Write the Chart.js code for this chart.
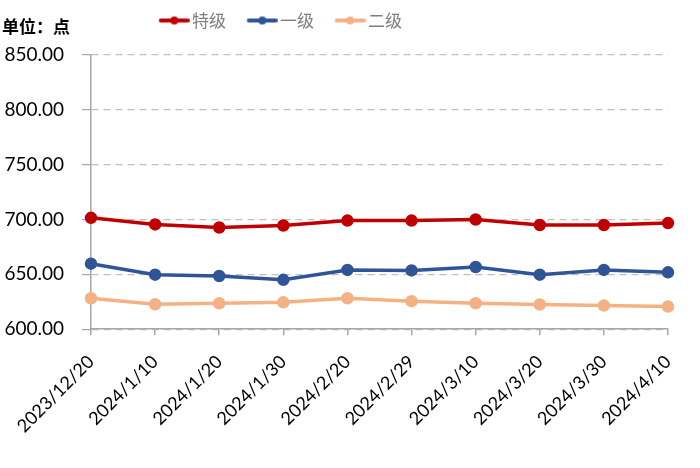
<!DOCTYPE html>
<html>
<head>
<meta charset="utf-8">
<script src="https://cdn.jsdelivr.net/npm/chart.js@4"></script>
<style>
  body { margin: 0; background: #fff; }
  #wrap { width: 700px; height: 468px; }
</style>
</head>
<body>
<div id="wrap"><canvas id="myChart"></canvas></div>
<script>
// price index by grade
var labels = ['2023/12/20', '2024/1/10', '2024/1/20', '2024/1/30', '2024/2/20',
              '2024/2/29', '2024/3/10', '2024/3/20', '2024/3/30', '2024/4/10'];
var grade0 = [701.5, 695.5, 692.7, 694.5, 699.0, 699.0, 700.0, 695.0, 695.0, 696.7];
var grade1 = [659.7, 649.7, 648.5, 645.0, 654.0, 653.6, 656.7, 649.7, 654.0, 651.8];
var grade2 = [628.2, 622.7, 623.6, 624.5, 628.2, 625.5, 623.6, 622.5, 621.5, 620.6];
var names = ['特级', '一级', '二级'];
var colors = ['#C00000', '#2F5597', '#F4B183'];

var numFont = "Lato, 'Noto Sans CJK SC', sans-serif";

// legend marker: short line with a dot, drawn off-centre so the text sits close
function marker(color) {
    var c = document.createElement('canvas');
    c.width = 48; c.height = 10;
    var g = c.getContext('2d');
    g.strokeStyle = color;
    g.lineWidth = 4;
    g.lineCap = 'round';
    g.beginPath(); g.moveTo(19, 5); g.lineTo(46, 5); g.stroke();
    g.fillStyle = color;
    g.beginPath(); g.arc(32.5, 5, 4, 0, Math.PI * 2); g.fill();
    return c;
}

var extras = {
    id: 'extras',
    beforeLayout: function (chart) {
        // a bit more room between legend and plot
        var l = chart.legend;
        if (l && !l._tall) {
            var fit = l.fit;
            l.fit = function () { fit.call(this); this.height += 16; };
            l._tall = true;
        }
    },
    afterLayout: function (chart) {
        // legend sits left of centre in the original
        var l = chart.legend;
        l.left -= 60; l.right -= 60;
    },
    afterDraw: function (chart) {
        var ctx = chart.ctx;
        ctx.save();
        ctx.font = "bold 17px 'Noto Sans CJK SC', sans-serif";
        ctx.fillStyle = '#000';
        ctx.textBaseline = 'middle';
        ctx.fillText('单位：点', 2, 27);
        ctx.restore();
    }
};

function mkSet(i, data) {
    return {
        label: names[i],
        data: data,
        borderColor: colors[i],
        backgroundColor: colors[i],
        borderWidth: 3.5,
        pointRadius: 4.5,
        pointHoverRadius: 4.5,
        pointStyle: 'circle',
        tension: 0
    };
}

var ctx = document.getElementById('myChart').getContext('2d');
var myChart = new Chart(ctx, {
    type: 'line',
    data: {
        labels: labels,
        datasets: [mkSet(0, grade0), mkSet(1, grade1), mkSet(2, grade2)]
    },
    plugins: [extras],
    options: {
        responsive: true,
        maintainAspectRatio: false,
        animation: false,
        layout: { padding: { top: 2, right: 32, bottom: 15, left: 2 } },
        plugins: {
            legend: {
                position: 'top',
                labels: {
                    usePointStyle: true,
                    pointStyleWidth: 35.5,
                    padding: 10,
                    color: '#7F7F7F',
                    font: { size: 17, family: "'Noto Sans CJK SC', sans-serif" },
                    generateLabels: function (chart) {
                        return chart.data.datasets.map(function (ds, i) {
                            return {
                                text: ds.label,
                                pointStyle: marker(colors[i]),
                                fillStyle: colors[i],
                                strokeStyle: colors[i],
                                fontColor: '#7F7F7F',
                                lineWidth: 0,
                                datasetIndex: i
                            };
                        });
                    }
                }
            },
            tooltip: { enabled: false }
        },
        scales: {
            x: {
                offset: false,
                afterFit: function (s) { s.paddingLeft = 0; s.paddingRight = 0; },
                grid: {
                    drawOnChartArea: false,
                    drawTicks: true,
                    tickLength: 6,
                    color: '#A6A6A6',
                    lineWidth: 1.5
                },
                border: { color: '#A6A6A6', width: 1.5 },
                ticks: {
                    autoSkip: false,
                    maxRotation: 45,
                    minRotation: 45,
                    color: '#000',
                    padding: 16,
                    font: { size: 18, family: numFont }
                }
            },
            y: {
                min: 600,
                max: 850,
                afterFit: function (s) { s.width = 89; },
                grid: {
                    color: '#BFBFBF',
                    lineWidth: 1.2,
                    tickLength: 9,
                    tickColor: '#A6A6A6',
                    tickBorderDash: []
                },
                border: { color: '#A6A6A6', width: 1.5, dash: [7, 5] },
                ticks: {
                    stepSize: 50,
                    color: '#000',
                    padding: 18,
                    font: { size: 19, family: numFont },
                    callback: function (v) { return v.toFixed(2); }
                }
            }
        }
    }
});
</script>
</body>
</html>
